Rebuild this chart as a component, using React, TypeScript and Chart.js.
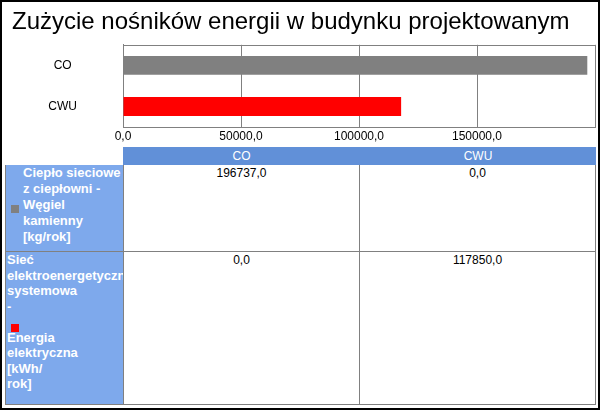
import { useEffect, useRef } from "react";
import { Chart, registerables } from "chart.js";

Chart.register(...registerables);

const chartTitle = "Zużycie nośników energii w budynku projektowanym";
const categories = ["CO", "CWU"];
const coalValues = [196737, 0];
const electricityValues = [0, 117850];
const seriesValues = [coalValues, electricityValues];
const seriesLabelLines = [
  ["Ciepło sieciowe", "z ciepłowni -", "Węgiel", "kamienny", "[kg/rok]"],
  ["Sieć", "elektroenergetyczna", "systemowa", "-", "Energia", "elektryczna", "[kWh/", "rok]"],
];
const xTickValues = [0, 50000, 100000, 150000, 200000];
const xTickLabels = ["0,0", "50000,0", "100000,0", "150000,0", ""];

const seriesColors = ["#808080", "#ff0000"];
const FONT = 'Arial, "Liberation Sans", sans-serif';
const GRID = "#808080";

const fmt = (v: number) => v.toFixed(1).replace(".", ",");

// frame round the plot area (top edge isn't drawn by any scale)
const framePlugin = {
  id: "frame",
  afterDraw(chart: Chart) {
    const { ctx, chartArea } = chart;
    ctx.save();
    ctx.strokeStyle = GRID;
    ctx.lineWidth = 1;
    const l = Math.round(chartArea.left) + 0.5;
    const t = Math.round(chartArea.top) + 0.5;
    const r = Math.round(chartArea.right) + 0.5;
    ctx.beginPath();
    ctx.moveTo(l, t);
    ctx.lineTo(r, t);
    ctx.stroke();
    ctx.restore();
  },
};

function BarChart() {
  const canvasRef = useRef<HTMLCanvasElement | null>(null);

  useEffect(() => {
    if (!canvasRef.current) return;
    const chart = new Chart(canvasRef.current, {
      type: "bar",
      data: {
        labels: categories,
        datasets: seriesValues.map((data, i) => ({
          label: seriesLabelLines[i].join(" "),
          data,
          backgroundColor: seriesColors[i],
          barPercentage: 0.46,
          categoryPercentage: 1,
        })),
      },
      options: {
        indexAxis: "y",
        responsive: true,
        maintainAspectRatio: false,
        animation: false,
        layout: { padding: { left: 12, right: 5, top: 0, bottom: 0 } },
        plugins: {
          legend: { display: false },
          tooltip: { enabled: false },
          title: {
            display: true,
            text: chartTitle,
            align: "start",
            color: "#000",
            font: { family: FONT, size: 24, weight: "normal", lineHeight: 1.2 },
            padding: { top: 8, bottom: 8 },
          },
        },
        scales: {
          x: {
            stacked: true,
            min: 0,
            max: 200000,
            afterBuildTicks: (axis: any) => {
              axis.ticks = xTickValues.map((value) => ({ value }));
            },
            afterFit: (axis: any) => {
              axis.height = 18;
              axis.paddingLeft = 0;
              axis.paddingRight = 0;
            },
            ticks: {
              autoSkip: false,
              maxRotation: 0,
              padding: 2,
              color: "#000",
              font: { family: FONT, size: 12 },
              callback: (_v: any, i: number) => xTickLabels[i],
            },
            grid: { color: GRID, drawTicks: false },
            border: { color: GRID },
          },
          y: {
            stacked: true,
            afterFit: (axis: any) => {
              axis.width = 111;
              axis.paddingTop = 0;
              axis.paddingBottom = 0;
            },
            ticks: {
              crossAlign: "center",
              padding: 38,
              color: "#000",
              font: { family: FONT, size: 12 },
            },
            grid: { display: false },
            border: { color: GRID },
          },
        },
      },
      plugins: [framePlugin],
    });
    return () => chart.destroy();
  }, []);

  return (
    <div style={{ position: "absolute", left: 0, top: 0, width: 600, height: 145 }}>
      <canvas ref={canvasRef} />
    </div>
  );
}

const COL_X = [5, 123, 359, 595];
const ROW_TOP = [165, 251, 404];
const MARKER_AFTER = [-1, 4]; // row 2 has the key on its own line

function DataTable() {
  const cells = [];
  categories.forEach((c, j) => {
    cells.push(
      <div
        key={"h" + j}
        style={{
          position: "absolute",
          left: COL_X[j + 1] + (j ? 1 : 0),
          top: 147,
          width: COL_X[j + 2] - COL_X[j + 1] + (j ? 0 : 1),
          height: 18,
          background: "#6190d8",
          color: "#fff",
          fontSize: 12,
          lineHeight: "18px",
          textAlign: "center",
        }}
      >
        {c}
      </div>
    );
  });
  seriesValues.forEach((vals, i) => {
    const top = ROW_TOP[i] + (i ? 1 : 0);
    const height = ROW_TOP[i + 1] - top + 1;
    const lines = seriesLabelLines[i];
    const lh = i === 0 ? 16 : 15.5;
    const marker = (
      <div style={{ width: 8, height: 8, background: seriesColors[i] }} />
    );
    cells.push(
      <div
        key={"l" + i}
        style={{
          position: "absolute",
          left: COL_X[0],
          top,
          width: COL_X[1] - COL_X[0] + 1,
          height,
          boxSizing: "border-box",
          borderLeft: "1px solid " + GRID,
          borderRight: "1px solid " + GRID,
          borderBottom: "1px solid " + GRID,
          background: "#7ea9ec",
          overflow: "hidden",
          color: "#fff",
          fontWeight: "bold",
          fontSize: 13,
        }}
      >
        {MARKER_AFTER[i] < 0 ? (
          <>
            <div style={{ position: "absolute", left: 5, top: height / 2 - 4 }}>{marker}</div>
            <div style={{ paddingLeft: 17, lineHeight: lh + "px" }}>
              {lines.map((t, k) => (
                <div key={k} style={{ whiteSpace: "nowrap" }}>{t}</div>
              ))}
            </div>
          </>
        ) : (
          <div style={{ paddingLeft: 1, lineHeight: lh + "px" }}>
            {lines.map((t, k) => (
              <div key={k}>
                {k === MARKER_AFTER[i] && (
                  <div style={{ height: lh, paddingTop: 10, paddingLeft: 4, boxSizing: "border-box" }}>
                    {marker}
                  </div>
                )}
                <div style={{ whiteSpace: "nowrap", height: lh }}>{t}</div>
              </div>
            ))}
          </div>
        )}
      </div>
    );
    vals.forEach((v, j) => {
      cells.push(
        <div
          key={"v" + i + j}
          style={{
            position: "absolute",
            left: COL_X[j + 1] + 1,
            top,
            width: COL_X[j + 2] - COL_X[j + 1],
            height,
            boxSizing: "border-box",
            borderRight: "1px solid " + GRID,
            borderBottom: "1px solid " + GRID,
            background: "#fff",
            color: "#000",
            fontSize: 12,
            lineHeight: "16px",
            textAlign: "center",
          }}
        >
          {fmt(v)}
        </div>
      );
    });
  });
  return <>{cells}</>;
}

export default function App() {
  useEffect(() => {
    document.body.style.margin = "0";
  }, []);

  return (
    <div
      style={{
        position: "relative",
        width: 600,
        height: 410,
        background: "#fff",
        fontFamily: FONT,
        overflow: "hidden",
      }}
    >
      <BarChart />
      <DataTable />
      <div
        style={{
          position: "absolute",
          inset: 0,
          border: "2px solid #000",
          pointerEvents: "none",
        }}
      />
    </div>
  );
}
